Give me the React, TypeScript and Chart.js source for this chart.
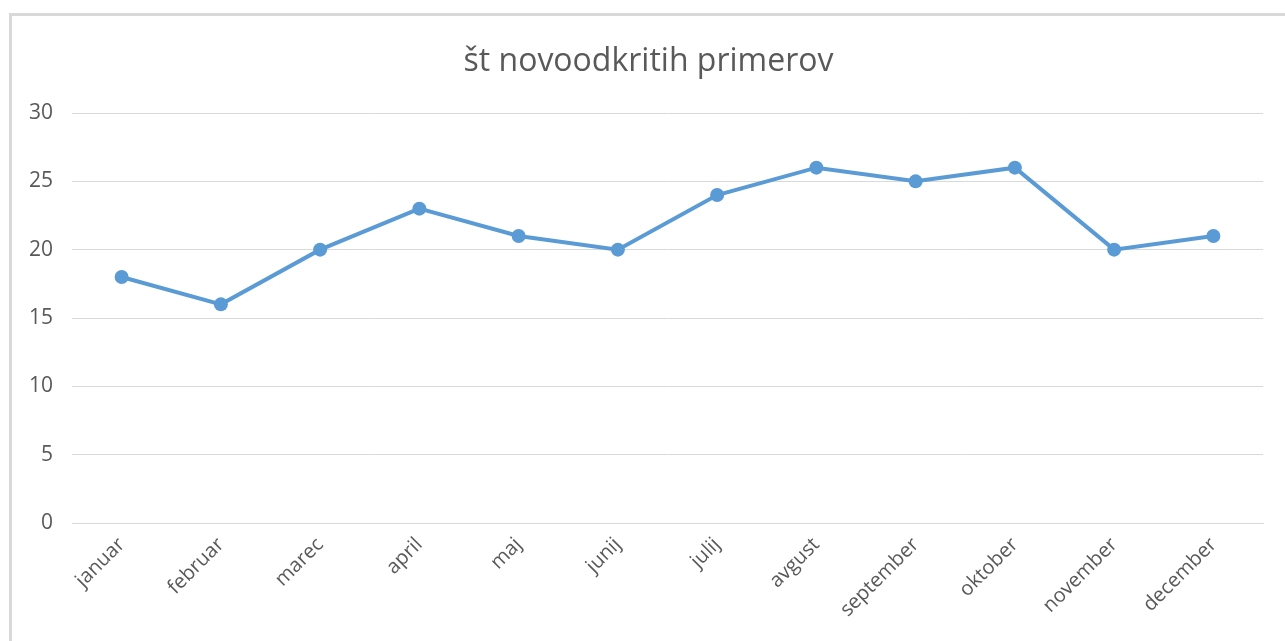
import React, { useEffect, useRef } from "react";
import { Chart, registerables } from "chart.js";

Chart.register(...registerables);

const categories = ["januar", "februar", "marec", "april", "maj", "junij", "julij", "avgust", "september", "oktober", "november", "december"];
const values = [18, 16, 20, 23, 21, 20, 24, 26, 25, 26, 20, 21];
const yTicks = [0, 5, 10, 15, 20, 25, 30];
const title = "št novoodkritih primerov";

const titlePlugin = {
  id: "customTitle",
  afterDraw(chart: any) {
    const ctx = chart.ctx;
    ctx.save();
    ctx.fillStyle = "#595959";
    ctx.font = "32px 'Open Sans'";
    ctx.textAlign = "center";
    ctx.textBaseline = "middle";
    ctx.fillText(title, 648.5, 62);
    ctx.restore();
  },
};

export default function App() {
  const ref = useRef<HTMLCanvasElement | null>(null);
  useEffect(() => {
    if (!ref.current) return;
    const textColor = "#595959";
    const chart = new Chart(ref.current, {
      type: "line",
      data: {
        labels: categories,
        datasets: [
          {
            data: values,
            borderColor: "#5b9bd5",
            backgroundColor: "#5b9bd5",
            borderWidth: 4,
            pointRadius: 7,
            pointBorderWidth: 0,
            pointBackgroundColor: "#5b9bd5",
            tension: 0,
          },
        ],
      },
      options: {
        animation: false,
        responsive: false,
        devicePixelRatio: 1,
        layout: { padding: { left: 12, right: 22, top: 113, bottom: 0 } },
        plugins: {
          legend: { display: false },
          tooltip: { enabled: false },
          title: { display: false },
        },
        scales: {
          x: {
            offset: true,
            grid: { display: false, drawTicks: false },
            border: { display: true, color: "#d9d9d9", width: 1 },
            ticks: {
              color: textColor,
              font: { family: "Open Sans", size: 20 },
              maxRotation: 45,
              minRotation: 45,
              padding: 10,
              autoSkip: false,
            },
            afterFit: (s: any) => {
              s.height = 118;
            },
          },
          y: {
            min: 0,
            max: 30,
            grid: { color: "#d9d9d9", lineWidth: 1, drawTicks: false },
            border: { display: false },
            afterBuildTicks: (s: any) => {
              s.ticks = yTicks.map((v) => ({ value: v }));
            },
            ticks: {
              color: textColor,
              font: { family: "Open Sans", size: 21 },
              padding: 19,
            },
            afterFit: (s: any) => {
              s.width = 60;
            },
          },
        },
      },
      plugins: [titlePlugin],
    });
    return () => chart.destroy();
  }, []);
  return (
    <div style={{ position: "fixed", left: 0, top: 0, width: 1285, height: 641, background: "#fff" }}>
      <div
        style={{
          position: "absolute",
          left: 9,
          top: 13,
          width: 1290,
          height: 650,
          border: "3px solid #d9d9d9",
          boxSizing: "border-box",
        }}
      />
      <canvas ref={ref} width={1285} height={641} style={{ position: "absolute", left: 0, top: 0 }} />
    </div>
  );
}
